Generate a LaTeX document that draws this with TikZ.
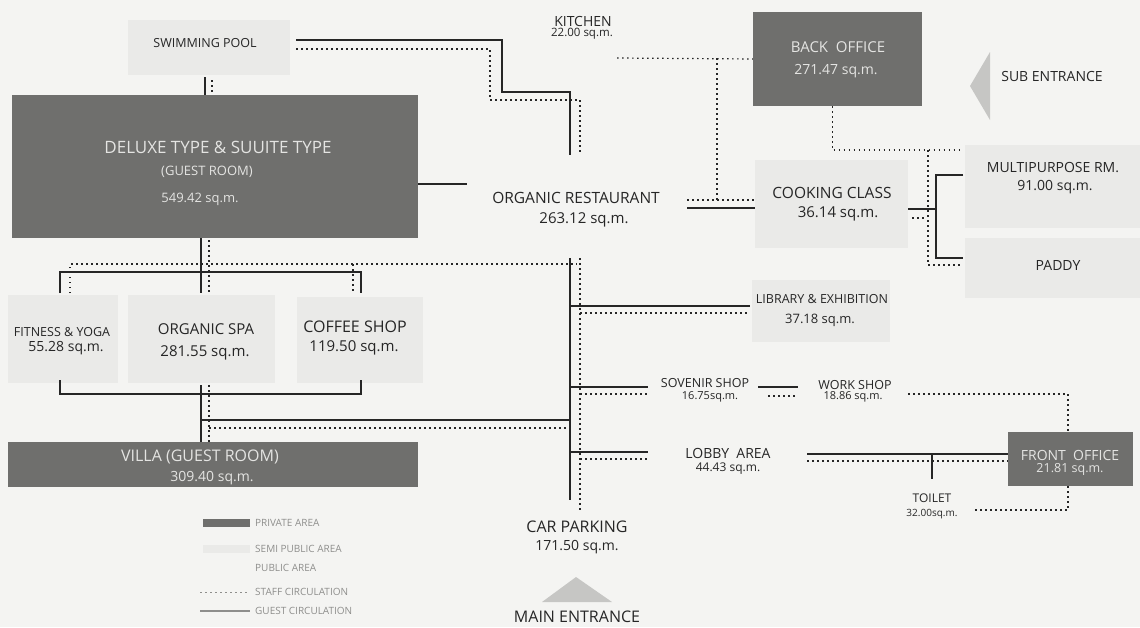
\documentclass[tikz,border=0pt]{standalone}
\usepackage{fontspec}
\setmainfont{Open Sans}
\usetikzlibrary{calc}
\definecolor{paper}{HTML}{F4F4F2}
\definecolor{privc}{HTML}{6F6F6D}
\definecolor{semic}{HTML}{EAEAE8}
\definecolor{inkc}{HTML}{262626}
\definecolor{palec}{HTML}{E4E4E2}
\definecolor{legc}{HTML}{8E8E8C}
\definecolor{arrc}{HTML}{C6C6C4}

\begin{document}
\begin{tikzpicture}[x=1pt,y=-1pt,
  lbl/.style={text=inkc,inner sep=0pt,font=\fontsize{#1}{#1}\selectfont},
  wlbl/.style={lbl={#1},text=palec},
  pvt/.style={fill=privc,draw=none,inner sep=0pt},
  semi/.style={fill=semic,draw=none,inner sep=0pt},
  guest/.style={draw=inkc,line width=2.5pt},
  staff/.style={draw=inkc,line width=1.2pt,dash pattern=on 1.5pt off 3.5pt},
  legtxt/.style={lbl=10,text=legc,anchor=west}]
  \def\areabox#1#2#3#4#5#6{%
    \pgfmathsetmacro\bw{#5-#3}\pgfmathsetmacro\bh{#6-#4}%
    \node[#2,minimum width=\bw pt,minimum height=\bh pt] (#1) at ({(#3+#5)/2},{(#4+#6)/2}) {};}
  \fill[paper] (0,0) rectangle (1140,627);
  \useasboundingbox (0,0) rectangle (1140,627);
  % area boxes
  \areabox{pool}{semi}{128}{20}{290}{75}
  \areabox{deluxe}{pvt}{12}{95}{418}{238}
  \areabox{backoff}{pvt}{753}{12}{922}{106}
  \areabox{cookbox}{semi}{755}{160}{908}{248}
  \areabox{multibox}{semi}{965}{145}{1140}{228}
  \areabox{paddybox}{semi}{965}{238}{1140}{298}
  \areabox{fitbox}{semi}{8}{295}{118}{383}
  \areabox{spabox}{semi}{128}{295}{275}{383}
  \areabox{coffbox}{semi}{297}{297}{423}{383}
  \areabox{libbox}{semi}{752}{280}{890}{342}
  \areabox{frontbox}{pvt}{1008}{432}{1133}{486}
  \areabox{villabox}{pvt}{8}{442}{418}{487}
  % entrances
  \fill[arrc] (970,86) -- (990,52) -- (990,120) -- cycle;
  \fill[arrc] (576,577) -- (612,602) -- (542,602) -- cycle;
  % labels
  \node[lbl=12.5] (poolt) at (205,43) {SWIMMING POOL};
  \node[wlbl=17] (deluxet) at (218,147) {DELUXE TYPE \& SUUITE TYPE};
  \node[wlbl=13] (deluxeg) at (207,172) {(GUEST ROOM)};
  \node[wlbl=13] (deluxea) at (200,199) {549.42 sq.m.};
  \node[lbl=14] (kitchen) at (583,21) {KITCHEN};
  \node[lbl=11.5] (kitchena) at (582,34) {22.00 sq.m.};
  \node[wlbl=15] (backt) at (838,47) {BACK\ \ OFFICE};
  \node[wlbl=14] (backa) at (836,71) {271.47 sq.m.};
  \node[lbl=14] (subent) at (1052,76) {SUB ENTRANCE};
  \node[lbl=15.5] (rest) at (576,198) {ORGANIC RESTAURANT};
  \node[lbl=15] (resta) at (584,220) {263.12 sq.m.};
  \node[lbl=15.5] (cook) at (832,193) {COOKING CLASS};
  \node[lbl=15] (cooka) at (838,214) {36.14 sq.m.};
  \node[lbl=14] (multi) at (1053,168) {MULTIPURPOSE RM.};
  \node[lbl=14] (multia) at (1055,187) {91.00 sq.m.};
  \node[lbl=14] (paddy) at (1058,265) {PADDY};
  \node[lbl=12.5] (fit) at (62,332) {FITNESS \& YOGA};
  \node[lbl=14] (fita) at (66,348) {55.28 sq.m.};
  \node[lbl=15] (spa) at (206,329) {ORGANIC SPA};
  \node[lbl=15] (spaa) at (205,353) {281.55 sq.m.};
  \node[lbl=16] (coffee) at (355,327) {COFFEE SHOP};
  \node[lbl=15] (coffeea) at (354,348) {119.50 sq.m.};
  \node[lbl=12.5] (lib) at (822,299) {LIBRARY \& EXHIBITION};
  \node[lbl=13] (liba) at (820,320) {37.18 sq.m.};
  \node[lbl=12.5] (sov) at (705,383) {SOVENIR SHOP};
  \node[lbl=11] (sova) at (710,397) {16.75sq.m.};
  \node[lbl=12.5] (work) at (855,385) {WORK SHOP};
  \node[lbl=11] (worka) at (853,397) {18.86 sq.m.};
  \node[lbl=14] (lobby) at (728,453) {LOBBY\ \ AREA};
  \node[lbl=12] (lobbya) at (728,469) {44.43 sq.m.};
  \node[wlbl=14] (front) at (1070,455) {FRONT\ \ OFFICE};
  \node[wlbl=12.5] (fronta) at (1070,469) {21.81 sq.m.};
  \node[lbl=12] (toilet) at (932,498) {TOILET};
  \node[lbl=10] (toileta) at (932,514) {32.00sq.m.};
  \node[wlbl=16] (villa) at (200,457) {VILLA (GUEST ROOM)};
  \node[wlbl=14] (villaa) at (212,478) {309.40 sq.m.};
  \node[lbl=16] (car) at (577,527) {CAR PARKING};
  \node[lbl=14] (cara) at (577,547) {171.50 sq.m.};
  \node[lbl=16] (mainent) at (577,617) {MAIN ENTRANCE};
  % circulation spine
  \coordinate (rn) at (570,155);
  \coordinate (rs) at (570,258);
  \coordinate (re) at (570,500);
  \draw[guest] ($(pool.east)+(6,-7.5)$) -| (502,92) -| (rn);
  \draw[staff] ($(pool.east)+(6,1.5)$) -| (490,100) -| ($(rn)+(10,0)$);
  \draw[guest] ($(pool.south)+(-4,2)$) -- ($(deluxe.north)+(-10,0)$);
  \draw[staff] ($(pool.south)+(3,5)$) -- ($(pool.south)+(3,17)$);
  \draw[guest] ($(deluxe.east)+(0,17.5)$) -- ++(49,0);
  \draw[guest] (rs) -- (re);
  \draw[staff] ($(rs)+(10,0)$) -- ($(re)+(10,10)$);
  % cooking class, back office, multipurpose
  \draw[guest] (687,208) -- (cookbox.west |- 0,208);
  \draw[staff] (687,200) -- (cookbox.west |- 0,200);
  \draw[staff] (617,58) -- (backoff.west);
  \draw[staff] (717,58) -- (717,200);
  \draw[staff] ($(backoff.south)+(-5,0)$) |- (963,150);
  \draw[staff] (928,150) |- (963,265);
  \draw[staff] (912,218) -- (926,218);
  \draw[guest] (cookbox.east |- 0,209) -- (936,209);
  \draw[guest] (963,175) -| (936,258) -- (963,258);
  % fitness, spa, coffee
  \draw[guest] ($(deluxe.south)+(-14,0)$) -- (201,293);
  \draw[staff] ($(deluxe.south)+(-6,2)$) -- (209,293);
  \draw[guest] (60,293) |- (361,272) -- (361,293);
  \draw[staff] (70,293) |- ($(rs)+(7,6)$);
  \draw[staff] (353,264) -- (353,293);
  \draw[guest] (60,380) |- (361,394) -- (361,380);
  \draw[guest] (201,385) -- (villabox.north -| 201,0);
  \draw[staff] (209,385) -- (209,442);
  \draw[guest] (201,420) -- (570,420);
  \draw[staff] (209,428) -- (570,428);
  % library, shops, lobby
  \draw[guest] (570,306) -- (750,306);
  \draw[staff] (580,313) -- (750,313);
  \draw[guest] (570,387) -- (648,387);
  \draw[staff] (580,394) -- (648,394);
  \draw[guest] (758,387) -- (798,387);
  \draw[staff] (768,396) -- (797,396);
  \draw[staff] (908,394) -| (frontbox.north -| 1068,0);
  \draw[guest] (570,452) -- (648,452);
  \draw[staff] (580,459) -- (648,459);
  \draw[guest] (807,454) -- (frontbox.west |- 0,454);
  \draw[staff] (807,461) -- (frontbox.west |- 0,461);
  \draw[guest] (932,454) -- (932,479);
  \draw[staff] (frontbox.south -| 1068,0) |- (973,510);
  % legend
  \fill[privc] (203,519) rectangle (250,527);
  \fill[semic] (203,545) rectangle (250,553);
  \draw[staff,draw=legc,line width=1pt] (200,592) -- (250,592);
  \draw[draw=legc,line width=1.8pt] (200,611) -- (250,611);
  \node[legtxt] (legpriv) at (255,523) {PRIVATE AREA};
  \node[legtxt] (legsemi) at (255,549) {SEMI PUBLIC AREA};
  \node[legtxt] (legpub) at (255,568) {PUBLIC AREA};
  \node[legtxt] (legstaff) at (255,592) {STAFF CIRCULATION};
  \node[legtxt] (legguest) at (255,611) {GUEST CIRCULATION};
\end{tikzpicture}
\end{document}
